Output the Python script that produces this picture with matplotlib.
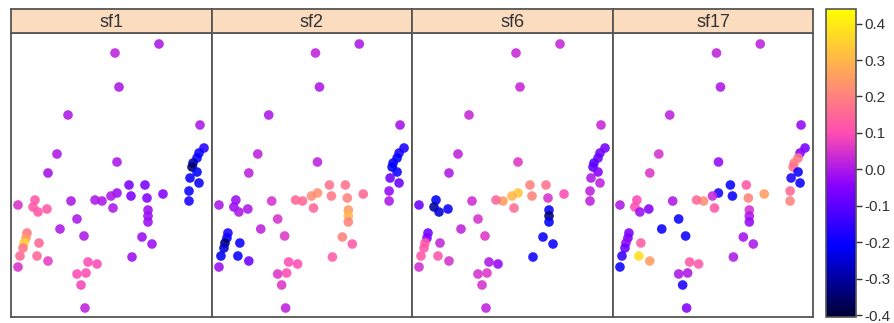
import numpy as np
import matplotlib
matplotlib.use("Agg")
import matplotlib.pyplot as plt
from matplotlib.colors import ListedColormap, Normalize

plt.rcParams['font.family'] = ['Liberation Sans', 'DejaVu Sans']

panels = ["sf1", "sf2", "sf6", "sf17"]

# point locations (same in every panel)
x = [159, 115, 119, 68, 200, 57, 117, 48,
     204, 199, 197, 193, 192, 197, 190, 199, 189, 189,
     129, 145, 131, 147, 163, 117, 111, 113, 102, 95, 71, 148, 148, 148,
     77, 60, 84, 142, 152, 132, 88, 97, 77, 86, 81, 85,
     18, 35, 33, 38, 47, 27, 26, 24, 23, 39, 20, 37, 48, 18]
y = [44, 53, 87, 115, 125, 154, 162, 173,
     148, 153, 158, 163, 167, 172, 178, 183, 191, 201,
     185, 185, 196, 198, 194, 193, 196, 208, 201, 200, 201, 210, 216, 222,
     219, 229, 236, 237, 244, 257, 262, 264, 274, 273, 285, 308,
     205, 200, 207, 212, 209, 233, 238, 243, 248, 243, 256, 256, 261, 267]

sf1 = [0.0, 0.02, 0.0, 0.0, 0.0, 0.0, 0.0, -0.01,
       -0.17, -0.2, -0.2, -0.28, -0.35, -0.22, -0.2, -0.2, -0.2, -0.18,
       -0.06, -0.06, -0.06, -0.05, -0.05, -0.02, 0.0, 0.0, 0.0, 0.0, 0.0, -0.02, -0.02, -0.02,
       0.0, 0.0, 0.0, -0.02, -0.02, -0.02, 0.1, 0.1, 0.1, 0.1, 0.09, 0.02,
       0.05, 0.12, 0.12, 0.12, 0.12, 0.18, 0.25, 0.35, 0.18, 0.15, 0.15, 0.15, 0.07, 0.05]
sf2 = [0.0, 0.02, 0.0, 0.0, -0.01, 0.02, 0.02, 0.02,
       -0.18, -0.18, -0.22, -0.2, -0.22, -0.2, -0.08, -0.08, -0.03, 0.0,
       0.17, 0.17, 0.18, 0.2, 0.15, 0.23, 0.22, 0.15, 0.15, 0.15, 0.05, 0.25, 0.3, 0.2,
       0.05, 0.02, 0.06, 0.2, 0.12, 0.12, 0.1, 0.1, 0.06, 0.1, 0.06, 0.02,
       0.0, -0.02, -0.02, 0.0, 0.0, -0.18, -0.2, -0.35, -0.25, -0.2, -0.22, -0.2, -0.08, -0.02]
sf6 = [0.03, 0.03, 0.03, 0.03, 0.03, 0.02, 0.06, 0.0,
       -0.07, -0.07, -0.08, -0.1, -0.1, -0.05, 0.0, 0.02, 0.02, 0.02,
       0.2, 0.17, 0.2, 0.05, 0.1, 0.33, 0.3, 0.16, 0.25, 0.15, 0.04, -0.2, -0.35, -0.22,
       0.05, 0.02, 0.06, -0.2, -0.2, -0.2, 0.0, -0.03, 0.05, 0.06, 0.05, 0.02,
       -0.08, -0.22, -0.3, -0.25, -0.2, -0.08, -0.05, 0.12, 0.12, 0.03, 0.12, 0.12, 0.05, 0.04]
sf17 = [0.02, 0.02, 0.0, 0.02, -0.03, 0.05, -0.03, 0.06,
        -0.07, -0.05, 0.18, 0.2, 0.16, -0.2, -0.18, -0.2, 0.15, 0.2,
        -0.2, 0.12, -0.2, 0.2, 0.25, -0.18, 0.03, 0.12, 0.22, 0.15, 0.0, 0.05, 0.0, -0.03,
        -0.2, -0.2, -0.2, -0.01, 0.0, 0.0, 0.12, 0.12, 0.0, 0.0, -0.18, -0.05,
        0.0, 0.1, 0.1, -0.02, -0.05, -0.06, -0.06, -0.03, -0.08, 0.13, -0.15, 0.38, 0.25, -0.2]
values = [sf1, sf2, sf6, sf17]

cbar_ticks = [-0.4, -0.3, -0.2, -0.1, 0.0, 0.1, 0.2, 0.3, 0.4]

# blue-pink-yellow palette
i = np.linspace(0.05, 0.92, 256)
r = np.where(i < .25, 0, np.where(i < .57, i / .32 - .78125, 1))
g = np.where(i < .42, 0, np.where(i < .92, 2 * i - .84, 1))
b = np.where(i < .25, 4 * i, np.where(i < .42, 1,
             np.where(i < .92, -2 * i + 1.84, i / .08 - 11.5)))
cmap = ListedColormap(np.clip(np.c_[r, g, b], 0, 1))
norm = Normalize(vmin=-0.405, vmax=0.44)

W, H = 895, 323
fig = plt.figure(figsize=(W / 100, H / 100), dpi=100)

edges = [11, 212, 412, 613, 813]
frame_col = "#555555"
for k, name in enumerate(panels):
    x0, x1 = edges[k], edges[k + 1]
    ax = fig.add_axes([x0 / W, (H - 317) / H, (x1 - x0) / W, (317 - 33) / H])
    ax.scatter(x, y, c=values[k], cmap=cmap, norm=norm, s=48, alpha=0.88,
               edgecolors='none')
    ax.set_xlim(11, 212)
    ax.set_ylim(317, 33)
    ax.set_xticks([])
    ax.set_yticks([])
    for sp in ax.spines.values():
        sp.set_color(frame_col)
        sp.set_linewidth(1.3)

    st = fig.add_axes([x0 / W, (H - 33) / H, (x1 - x0) / W, 24 / H])
    st.set_facecolor("#fcdcbf")
    st.set_xticks([])
    st.set_yticks([])
    for sp in st.spines.values():
        sp.set_color(frame_col)
        sp.set_linewidth(1.3)
    st.text(0.5, 0.45, name, ha='center', va='center', fontsize=13,
            color="#333333", transform=st.transAxes)

cax = fig.add_axes([826 / W, (H - 317) / H, 30 / W, 308 / H])
sm = plt.cm.ScalarMappable(norm=norm, cmap=cmap)
cb = fig.colorbar(sm, cax=cax, ticks=cbar_ticks)
cb.ax.set_yticklabels([f"{t:.1f}" for t in cbar_ticks])
cb.ax.tick_params(labelsize=11, length=4, width=1, colors="#333333", pad=2)
cb.outline.set_edgecolor(frame_col)
cb.outline.set_linewidth(1.2)

fig.savefig("out.png", dpi=100)
